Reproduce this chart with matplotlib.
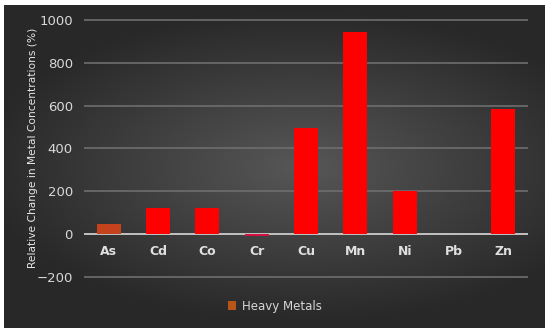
import numpy as np
import matplotlib
matplotlib.use('Agg')
import matplotlib.pyplot as plt
from matplotlib.patches import Patch

metals = ['As', 'Cd', 'Co', 'Cr', 'Cu', 'Mn', 'Ni', 'Pb', 'Zn']
change = [45, 122, 120, -10, 497, 944, 202, 0, 582]
bar_colors = ['#c4421c', '#ff0000', '#ff0000', '#d01040', '#ff0000',
              '#ff0000', '#ff0000', '#ff0000', '#ff0000']
yticks = [-200, 0, 200, 400, 600, 800, 1000]

fig = plt.figure(figsize=(5.5, 3.33), dpi=100, facecolor='white')

# dark radial gradient panel behind everything
bg = fig.add_axes([4/550, 5/333, 541/550, 323/333])
xx, yy = np.meshgrid(np.linspace(-1, 1, 300), np.linspace(-1, 1, 200))
r = np.sqrt(((xx - 0.1) * 0.9) ** 2 + (yy * 1.1) ** 2)
shade = np.clip(0.34 - 0.17 * r, 0.16, 0.34)
bg.imshow(np.dstack([shade, shade, shade]), aspect='auto', extent=[0, 1, 0, 1])
bg.set_axis_off()

# axes spans pixel rows 5..308 ; 1000 at y=20, 0 at y=234
ax = fig.add_axes([84/550, 25/333, 444/550, 303/333])
ax.patch.set_alpha(0)
x = np.arange(len(metals))
ax.bar(x, change, width=0.49, color=bar_colors, zorder=3)

ax.set_ylim(-346, 1070)
ax.set_xlim(-0.5, len(metals) - 0.5)
ax.set_yticks(yticks)
ax.set_yticklabels([str(t).replace('-', '\u2212') for t in yticks])
ax.tick_params(axis='y', length=0, colors='#d8d8d8', labelsize=9.5, pad=8)
ax.tick_params(axis='x', length=0, bottom=False, labelbottom=False)
ax.grid(axis='y', color='#6e6e6e', linewidth=1.2, zorder=0)
ax.axhline(0, color='#d0d0d0', linewidth=1.2, zorder=2)
for s in ax.spines.values():
    s.set_visible(False)

for i, m in enumerate(metals):
    ax.text(i, -84, m, ha='center', va='center', color='#e0e0e0',
            fontsize=9, fontweight='bold', zorder=4)

ax.set_ylabel('Relative Change in Metal Concentrations (%)', color='#e6e6e6',
              fontsize=7.7)
ax.yaxis.set_label_coords(-46/444, 0.528)

handle = Patch(facecolor='#b8561a', edgecolor='none')
fig.legend([handle], ['Heavy Metals'], loc='center', bbox_to_anchor=(0.5, 0.081),
           frameon=False, labelcolor='#d8d8d8', fontsize=8.5,
           handlelength=0.7, handleheight=0.7, handletextpad=0.5)

fig.savefig('out.png', dpi=100, facecolor='white')
